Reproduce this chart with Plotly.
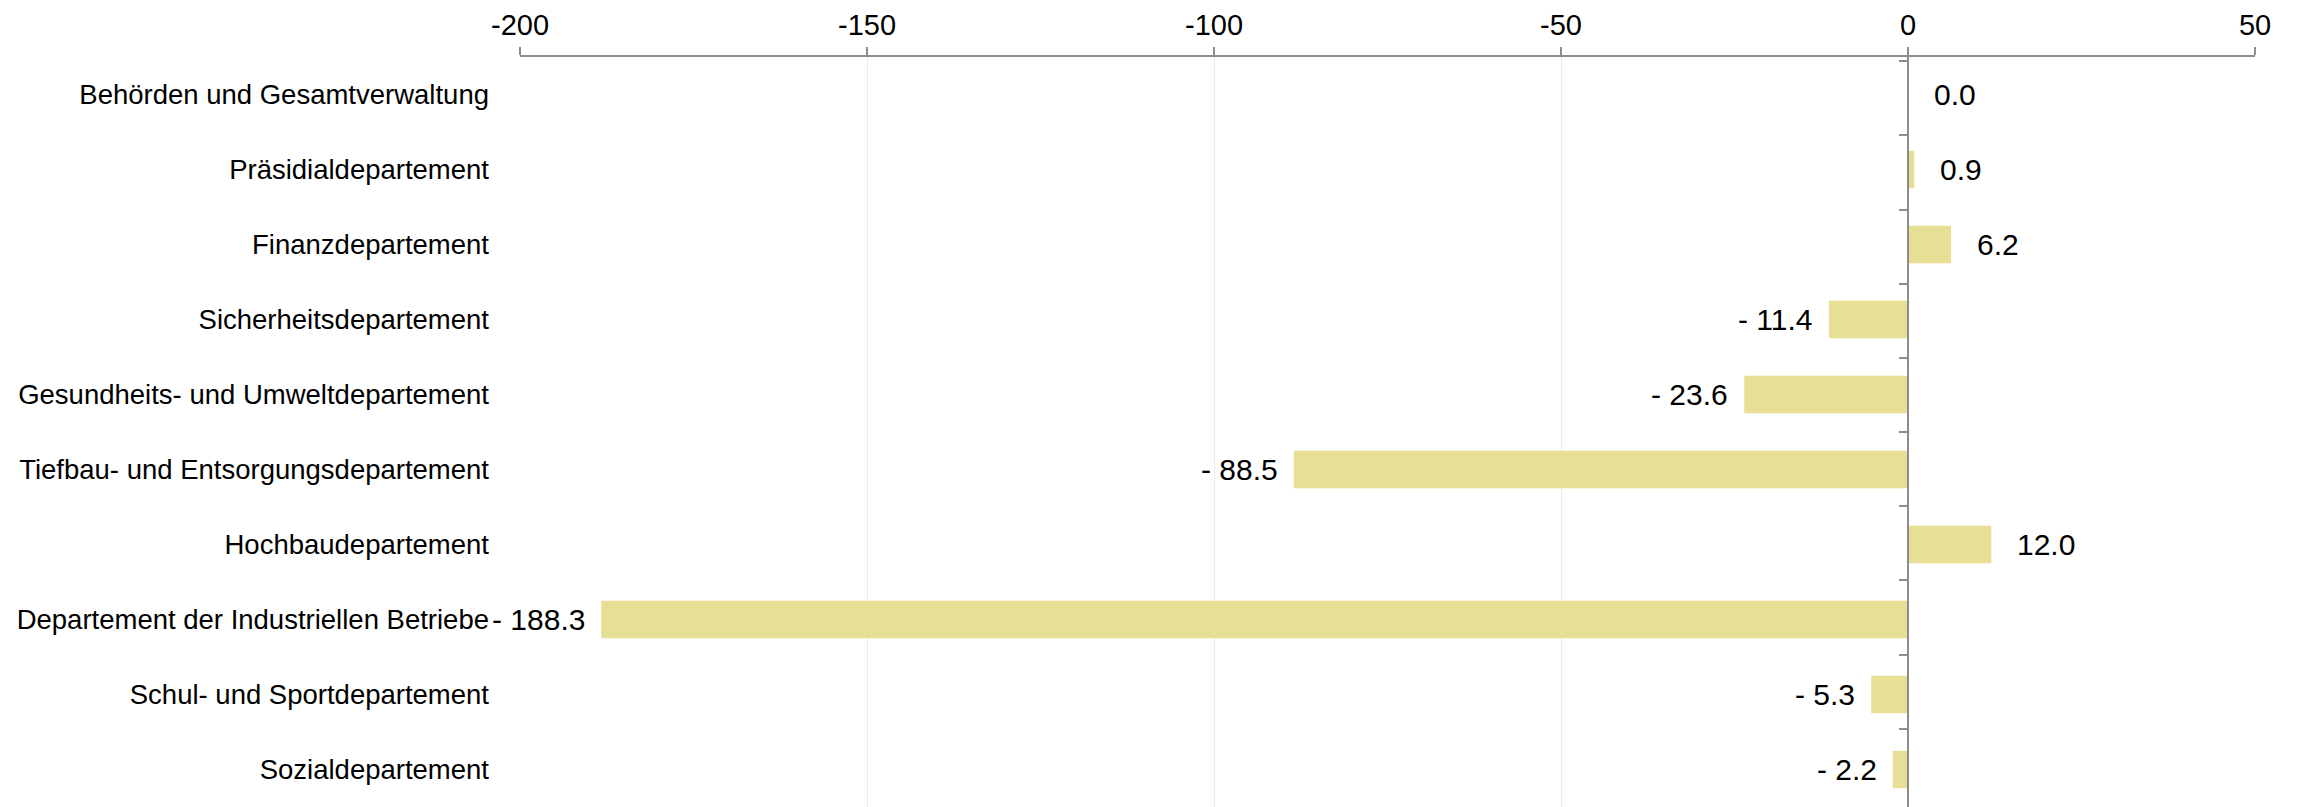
import plotly.graph_objects as go

categories = [
    "Behörden und Gesamtverwaltung",
    "Präsidialdepartement",
    "Finanzdepartement",
    "Sicherheitsdepartement",
    "Gesundheits- und Umweltdepartement",
    "Tiefbau- und Entsorgungsdepartement",
    "Hochbaudepartement",
    "Departement der Industriellen Betriebe",
    "Schul- und Sportdepartement",
    "Sozialdepartement",
]
values = [0.0, 0.9, 6.2, -11.4, -23.6, -88.5, 12.0, -188.3, -5.3, -2.2]
x_ticks = [-200, -150, -100, -50, 0, 50]

FONT = "Liberation Sans, Arial, sans-serif"
BAR = "#e6df95"
AX = "#8c8c8c"


def fmt(v):
    return f"- {abs(v):.1f}" if v < 0 else f"{v:.1f}"


fig = go.Figure()
fig.add_trace(go.Bar(
    x=values, y=categories, orientation="h",
    marker=dict(color=BAR, line=dict(width=0)),
    hoverinfo="skip", showlegend=False,
))
# invisible trace to carry the zero-positioned axis with boundary ticks
fig.add_trace(go.Scatter(
    x=values, y=categories, yaxis="y2", mode="markers",
    marker=dict(opacity=0), hoverinfo="skip", showlegend=False,
))

for c, v in zip(categories, values):
    neg = v < 0
    fig.add_annotation(
        x=v, y=c, text=fmt(v), showarrow=False,
        xanchor="right" if neg else "left",
        xshift=-14 if neg else 24,
        font=dict(family=FONT, size=30, color="#000000"),
    )

fig.update_layout(
    width=2303, height=807,
    margin=dict(l=512, r=56, t=49, b=8),
    paper_bgcolor="white", plot_bgcolor="white",
    bargap=0.5,
    font=dict(family=FONT, color="#000000"),
    xaxis=dict(
        side="top", range=[-200, 50], tickvals=x_ticks,
        ticktext=[str(t) for t in x_ticks],
        ticks="outside", ticklen=8, tickcolor=AX, tickwidth=2,
        showline=True, linecolor=AX, linewidth=2,
        showgrid=True, gridcolor="#ebebeb", gridwidth=1,
        zeroline=False, automargin=False,
        tickfont=dict(family=FONT, size=29, color="#000000"),
        fixedrange=True,
    ),
    yaxis=dict(
        type="category", categoryorder="array", categoryarray=categories,
        autorange="reversed", automargin=False,
        showline=False, showgrid=False, zeroline=False, ticks="",
        ticklabelstandoff=30,
        tickfont=dict(family=FONT, size=27.5, color="#000000"),
    ),
    yaxis2=dict(
        type="category", categoryorder="array", categoryarray=categories,
        autorange="reversed", automargin=False,
        overlaying="y", anchor="free", position=0.8, side="left",
        showline=True, linecolor=AX, linewidth=2,
        ticks="outside", tickson="boundaries", ticklen=8, tickcolor=AX, tickwidth=2,
        showticklabels=False, showgrid=False, zeroline=False,
    ),
)

fig.write_html("out.html")
